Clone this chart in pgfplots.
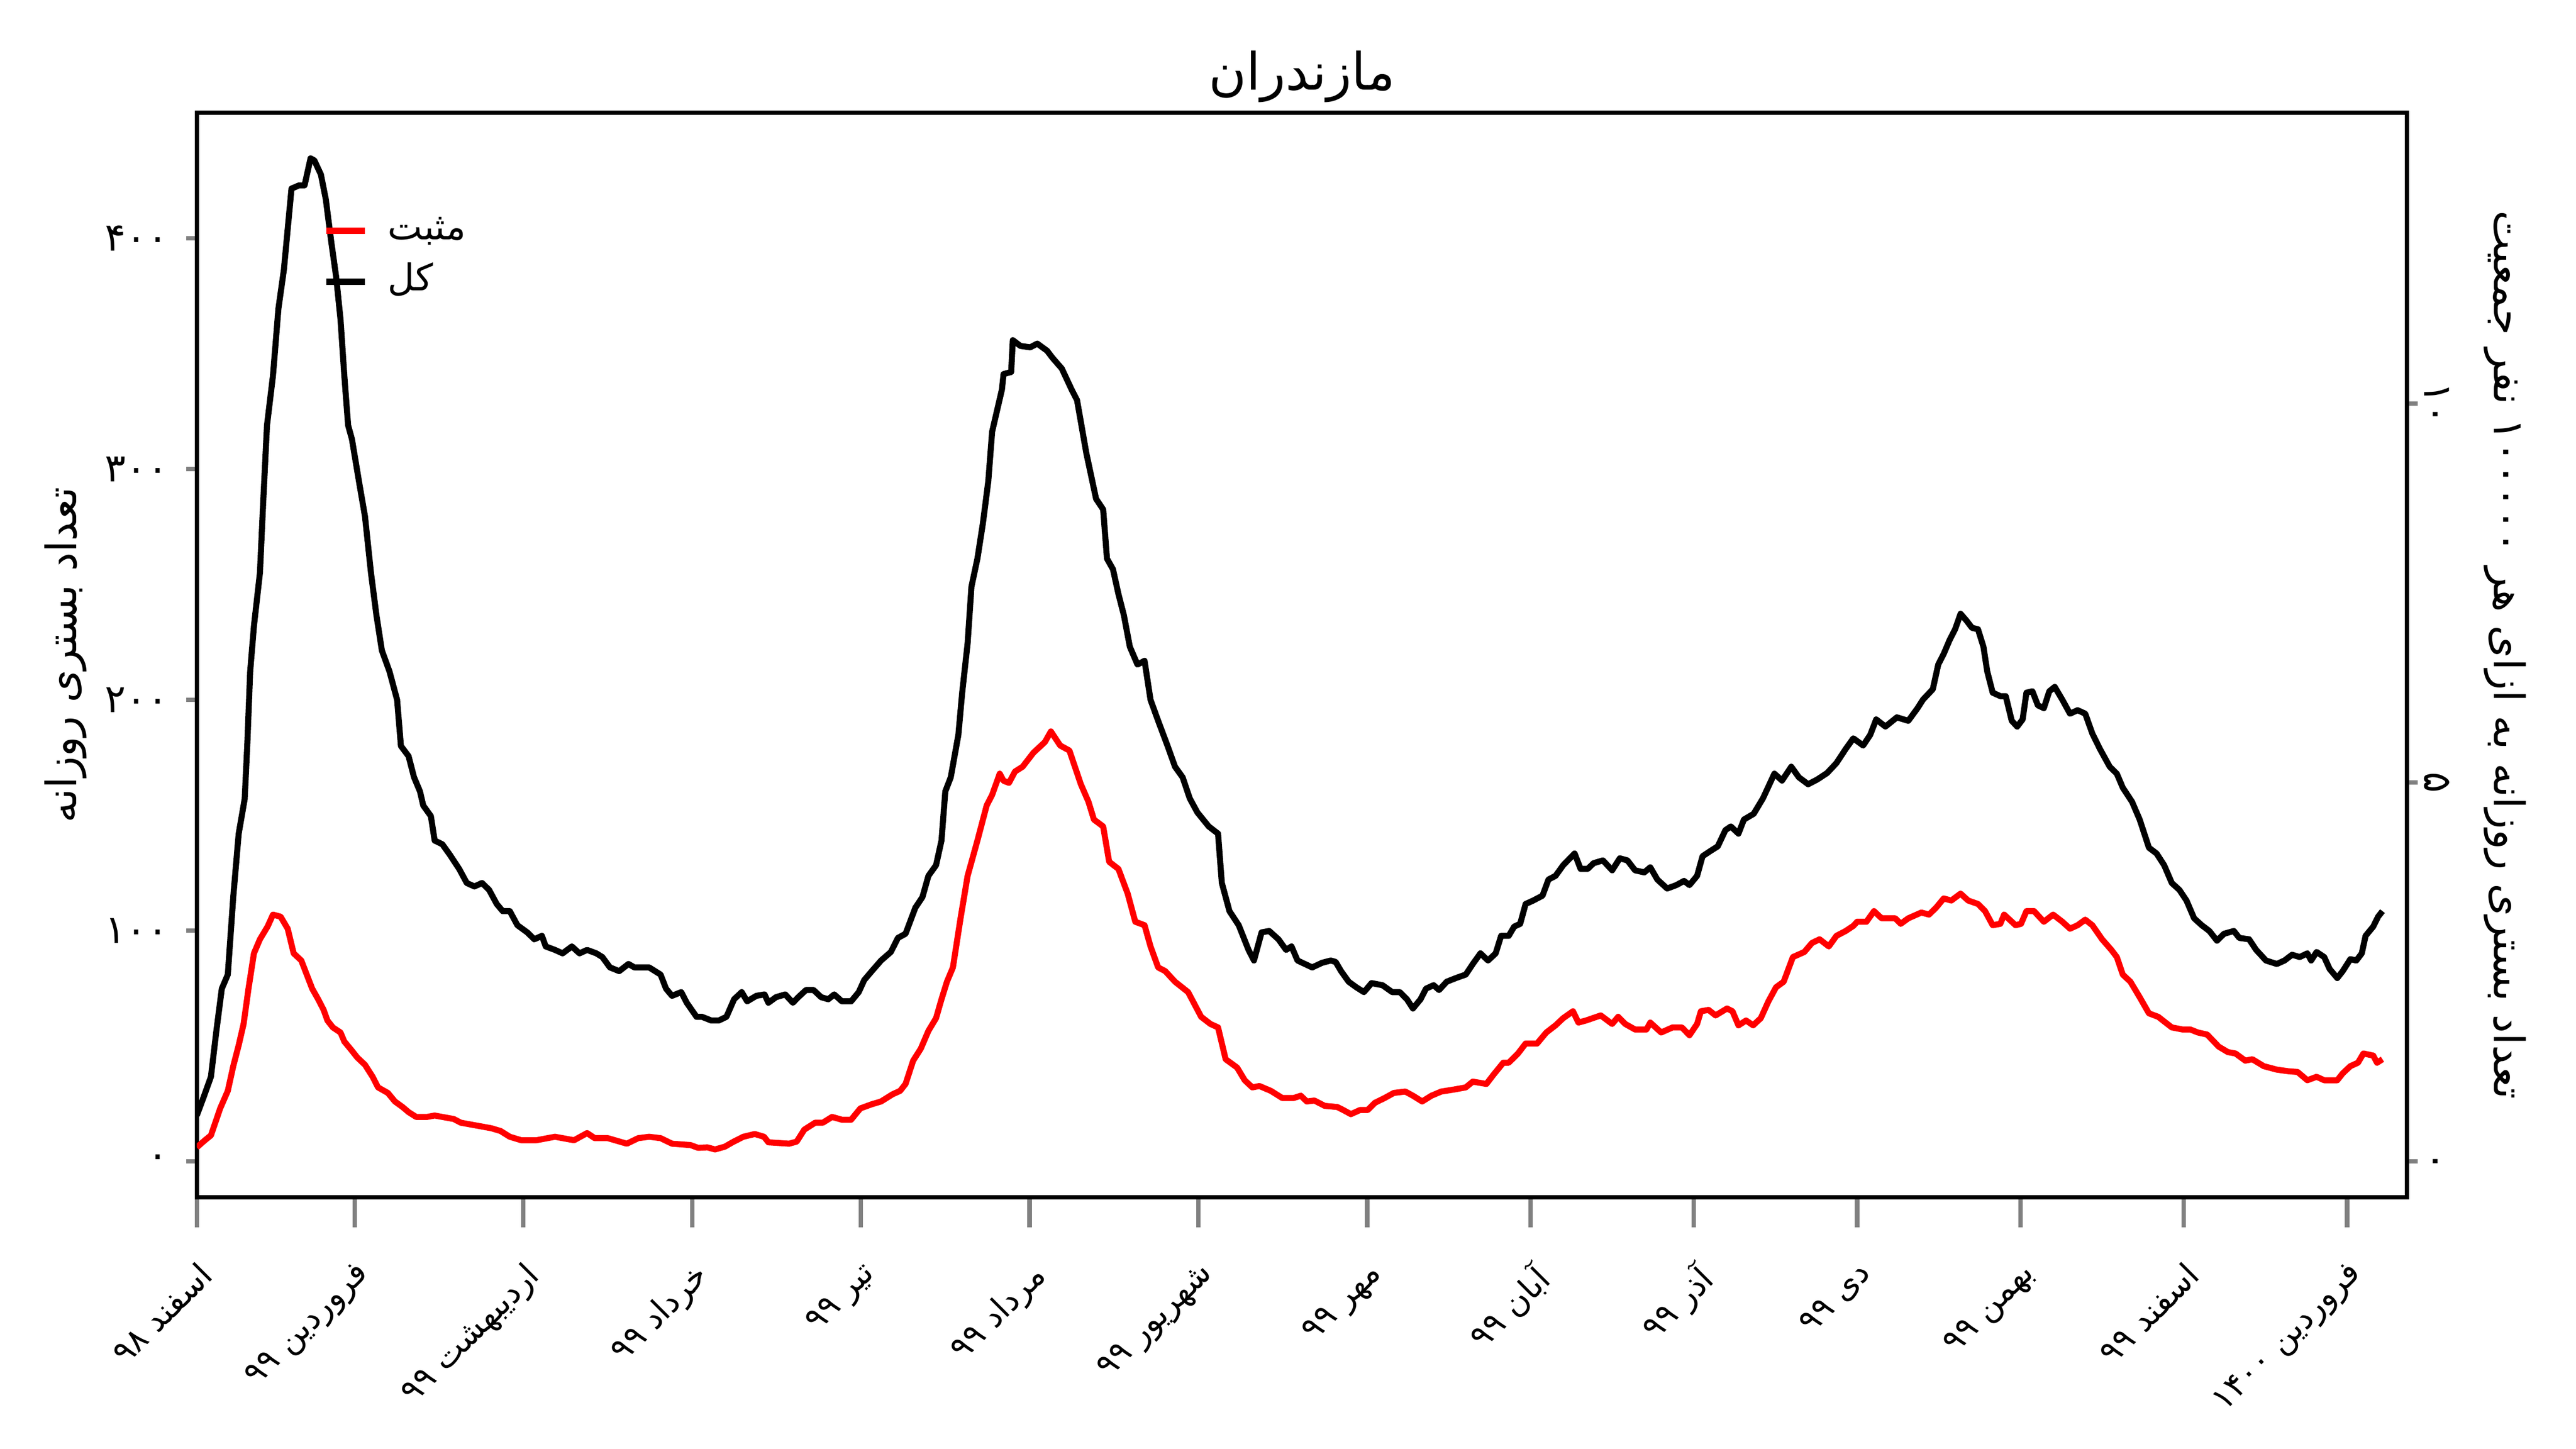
\documentclass[border=0pt]{standalone}
\usepackage{fontspec}
\usepackage{pgfplots}
\pgfplotsset{compat=1.18}
\TeXXeTstate=1
\newfontfamily\arabicfont[Script=Arabic]{DejaVu Sans}
\newfontfamily\digitfont{DejaVu Sans}
\definecolor{pred}{rgb}{1,0,0}
\begin{document}
\begin{tikzpicture}
\path[use as bounding box] (0,0) rectangle (1152pt,648pt);
\begin{axis}[
  at={(88pt,112.6pt)}, anchor=south west,
  width=988.4pt, height=485pt, scale only axis,
  xmin=0, xmax=406, ymin=-15.6, ymax=454.5,
  axis line style={line width=2pt},
  tick align=outside,
  xtick pos=bottom, ytick pos=left,
  xtick={0,29,60,91,122,153,184,215,245,275,305,335,365,395},
  xticklabels={
    {\arabicfont\beginR اسفند \beginL{\digitfont ۹۸}\endL{}\endR},
    {\arabicfont\beginR فروردین \beginL{\digitfont ۹۹}\endL{}\endR},
    {\arabicfont\beginR اردیبهشت \beginL{\digitfont ۹۹}\endL{}\endR},
    {\arabicfont\beginR خرداد \beginL{\digitfont ۹۹}\endL{}\endR},
    {\arabicfont\beginR تیر \beginL{\digitfont ۹۹}\endL{}\endR},
    {\arabicfont\beginR مرداد \beginL{\digitfont ۹۹}\endL{}\endR},
    {\arabicfont\beginR شهریور \beginL{\digitfont ۹۹}\endL{}\endR},
    {\arabicfont\beginR مهر \beginL{\digitfont ۹۹}\endL{}\endR},
    {\arabicfont\beginR آبان \beginL{\digitfont ۹۹}\endL{}\endR},
    {\arabicfont\beginR آذر \beginL{\digitfont ۹۹}\endL{}\endR},
    {\arabicfont\beginR دی \beginL{\digitfont ۹۹}\endL{}\endR},
    {\arabicfont\beginR بهمن \beginL{\digitfont ۹۹}\endL{}\endR},
    {\arabicfont\beginR اسفند \beginL{\digitfont ۹۹}\endL{}\endR},
    {\arabicfont\beginR فروردین \beginL{\digitfont ۱۴۰۰}\endL{}\endR}},
  ytick={0,100,200,300,400},
  yticklabels={{\digitfont ۰},{\digitfont ۱۰۰},{\digitfont ۲۰۰},{\digitfont ۳۰۰},{\digitfont ۴۰۰}},
  xtick style={line width=2pt, /pgfplots/major tick length=13.5pt},
  ytick style={line width=2pt, /pgfplots/major tick length=4.8pt},
  xticklabel style={rotate=45, anchor=north east, font=\fontsize{14.6}{14.6}\selectfont, inner sep=0pt, xshift=-16.6pt, yshift=-16.6pt},
  yticklabel style={font=\fontsize{17.5}{17.5}\selectfont, xshift=-5pt},
  every axis y label/.style={at={(axis description cs:-0.0593,0.5)}, anchor=center, rotate=90},
  ylabel={\arabicfont\beginR تعداد بستری روزانه\endR},
  ylabel style={font=\fontsize{18.8}{18.8}\selectfont},
  every axis title/.style={at={(axis description cs:0.5,1.033)}, anchor=center},
  title={\arabicfont\beginR مازندران\endR},
  title style={font=\fontsize{23}{23}\selectfont},
  legend style={at={(axis description cs:0.057,0.908)}, anchor=north west, draw=none, fill=none, inner sep=0pt, row sep=6.8pt, column sep=9pt, font=\fontsize{16.5}{16.5}\selectfont, nodes={inner sep=0pt, text height=12pt, text depth=4pt}},
  legend cell align=left,
  legend image code/.code={\draw[#1] (0pt,0pt) -- (17.2pt,0pt);},
  every axis plot/.append style={line width=2.7pt, line join=round},
]
\addplot[pred] coordinates {
(0,6.0)(1.5,9.1)(2.6,11.2)(4.3,22.9)(5.7,30.5)(6.7,41.2)(7.7,50.3)(8.6,59.5)(9.5,74.8)(10.5,90.1)
(11.6,96.2)(13.0,101.7)(14.0,106.9)(15.4,106.0)(16.7,100.8)(17.8,90.1)(19.2,87.0)(20.2,80.9)(21.2,74.8)(22.3,70.2)
(23.3,65.6)(24.0,61.0)(25.0,58.0)(26.4,55.8)(27.1,51.9)(28.5,47.9)(29.5,44.9)(30.9,41.8)(32.3,36.6)(33.3,32.0)
(35.1,29.6)(36.4,25.9)(37.8,23.5)(38.9,21.3)(40.3,19.2)(42.3,19.2)(43.7,19.8)(47.2,18.3)(48.5,16.7)(52.0,15.2)
(54.1,14.3)(55.8,13.1)(57.5,10.6)(59.6,9.1)(62.4,9.1)(65.8,10.6)(69.3,9.1)(71.7,12.2)(73.1,10.0)(75.5,10.0)
(79.0,7.6)(81.1,10.0)(83.1,10.6)(85.2,10.0)(87.3,7.6)(90.7,7.0)(92.1,5.8)(93.8,6.0)(95.2,5.1)(97.0,6.3)
(98.4,8.2)(100.4,10.6)(102.5,11.8)(104.2,10.6)(105.0,8.2)(108.8,7.6)(110.2,8.5)(111.6,13.7)(113.6,16.7)(115.0,16.7)
(116.7,19.2)(118.5,18.0)(120.2,18.0)(121.9,22.9)(124.0,24.7)(125.7,25.9)(127.8,29.0)(129.2,30.5)(130.2,33.5)(131.6,43.6)
(133.0,48.8)(134.4,56.5)(135.8,62.0)(136.8,70.2)(137.8,77.8)(138.9,84.0)(140.3,105.3)(141.6,123.7)(143.4,139.0)(145.1,154.2)
(146.1,158.8)(147.5,168.0)(148.2,164.9)(149.2,164.0)(150.3,168.9)(151.7,171.0)(153.7,177.1)(155.8,181.7)(156.9,186.3)(158.6,180.2)
(160.3,178.0)(162.4,163.4)(163.8,155.8)(164.8,148.1)(166.5,145.1)(167.6,129.8)(169.3,126.7)(171.0,116.0)(172.4,103.8)(174.1,102.3)
(175.2,93.1)(176.6,84.0)(177.9,82.4)(179.7,77.8)(182.1,73.3)(184.5,62.6)(186.2,59.5)(187.6,58.0)(189.0,44.2)(191.1,40.6)
(192.5,35.1)(193.9,32.0)(195.2,32.6)(197.3,30.5)(199.4,27.4)(201.5,27.4)(202.8,28.4)(203.9,25.9)(205.3,26.3)(207.2,24.0)
(209.5,23.5)(210.6,22.2)(212.0,20.4)(213.7,22.2)(215.1,22.2)(216.4,25.3)(218.2,27.4)(219.9,29.6)(222.0,30.2)(223.4,28.4)
(225.1,25.9)(226.8,28.4)(228.6,30.2)(231.0,31.1)(233.1,32.0)(234.4,34.5)(236.9,33.5)(238.2,37.5)(240.0,42.7)(241.0,42.7)
(242.7,46.7)(244.1,51.0)(246.2,51.0)(247.9,55.8)(249.6,58.9)(251.0,62.0)(252.8,65.0)(253.8,60.1)(255.2,61.0)(257.9,63.2)
(260.0,59.5)(261.1,62.6)(262.4,59.5)(264.2,57.1)(266.3,57.1)(267.0,60.1)(269.0,55.8)(271.1,58.0)(272.8,58.0)(274.2,54.6)
(275.6,59.5)(276.3,65.0)(277.7,65.6)(279.0,63.2)(281.1,66.2)(282.1,65.0)(283.2,58.9)(284.6,61.0)(285.9,58.9)(287.3,62.0)
(288.7,69.3)(290.1,75.4)(291.5,77.8)(293.2,88.5)(295.3,90.7)(296.7,94.6)(298.1,96.2)(299.8,93.1)(301.2,97.7)(302.9,99.8)
(304.3,102.0)(305.0,103.8)(306.7,103.8)(308.1,108.4)(309.5,105.3)(312.0,105.3)(313.0,102.9)(314.4,105.3)(316.8,107.8)(318.2,106.9)
(319.5,109.9)(320.9,113.9)(322.3,113.0)(324.0,116.0)(325.4,113.0)(327.2,111.5)(328.5,108.4)(329.9,102.3)(331.3,102.9)(332.0,106.9)
(334.1,102.3)(335.1,102.9)(336.1,108.4)(337.5,108.4)(339.3,103.8)(341.0,106.9)(342.7,103.8)(344.1,100.8)(345.5,102.3)(346.9,104.7)
(348.2,102.3)(350.0,96.2)(351.7,91.6)(352.7,88.5)(353.8,80.9)(355.2,77.8)(356.9,71.1)(358.6,64.1)(360.3,62.6)(362.8,58.0)
(364.8,57.1)(366.2,57.1)(367.6,55.8)(369.3,54.9)(371.4,49.7)(373.1,47.3)(374.5,46.7)(376.3,43.6)(377.6,44.2)(379.7,41.2)
(382.1,39.7)(384.2,39.0)(385.9,38.7)(387.7,35.1)(389.4,36.6)(390.8,35.1)(393.2,35.1)(394.2,38.1)(395.6,41.2)(397.0,42.7)
(398.0,46.7)(399.8,45.8)(400.5,42.7)(401.5,44.2)
};
\addlegendentry{\arabicfont\beginR مثبت\endR}
\addplot[black] coordinates {
(0,19.8)(1.2,27.4)(2.6,36.6)(3.6,56.5)(4.6,74.8)(5.7,80.9)(6.7,114.5)(7.7,142)(8.8,157)(9.3,181.7)
(9.8,212)(10.5,232)(11.6,255)(12.2,285.6)(12.9,319)(14.0,340.6)(15.0,369.6)(16.0,386.4)(17.4,421.6)(18.8,423)
(19.8,423)(20.9,434.7)(21.6,433.8)(22.8,427.7)(23.7,417)(24.7,398.6)(25.6,383.4)(26.4,365)(27.1,340.6)(27.8,319)
(28.5,313)(29.9,293.2)(30.9,279.5)(32.0,255)(33.0,236.7)(34.0,221.4)(35.4,212.3)(36.8,200)(37.5,180)(38.9,175.6)
(39.9,166.5)(41.0,160.3)(41.6,154.2)(43.0,149.6)(43.7,139)(45.1,137.4)(46.5,132.8)(48.2,126.7)(49.6,120.6)(51.0,119.1)
(52.4,120.6)(53.7,117.6)(55.1,111.5)(56.2,108.4)(57.5,108.4)(58.9,102.3)(60.7,99.2)(62.0,96.2)(63.4,97.7)(64.1,93.1)
(65.8,91.6)(67.2,90.1)(68.9,93.1)(70.3,90.1)(71.7,91.6)(73.4,90.1)(74.5,88.5)(75.9,84.0)(77.6,82.4)(79.3,85.5)
(80.4,84.0)(83.1,84.0)(85.2,80.9)(86.2,74.8)(87.3,71.7)(89.0,73.3)(90.0,68.7)(91.8,62.6)(92.8,62.6)(94.5,61.0)
(95.9,61.0)(97.3,62.6)(98.7,70.2)(100.1,73.3)(101.1,69.3)(102.8,71.7)(104.3,72.3)(105.0,68.7)(106.4,71.1)(108.1,72.3)
(109.5,68.7)(110.5,71.1)(111.9,74.2)(113.3,74.2)(114.7,71.1)(116.0,70.2)(117.1,72.3)(118.5,69.3)(120.2,69.3)(121.6,73.3)
(122.6,78.5)(124.0,82.4)(125.7,87.0)(127.5,90.7)(128.8,96.8)(130.2,98.6)(132.0,109.9)(133.3,114.5)(134.4,123.7)(135.8,128.3)
(136.8,139.0)(137.5,160.3)(138.5,166.4)(139.9,184.8)(140.6,203.1)(141.6,224.5)(142.3,249.0)(143.4,261.2)(144.4,276.4)(145.4,294.8)
(146.1,316.2)(147.9,334.5)(148.2,341.2)(149.6,342.1)(149.9,355.9)(151.3,353.4)(153.1,352.8)(154.4,354.4)(156.2,351.3)(157.2,348.2)
(158.9,343.6)(160.7,334.5)(161.7,329.9)(163.4,307.0)(165.2,287.1)(166.5,282.5)(167.2,261.2)(168.3,256.6)(169.3,245.9)(170.3,236.7)
(171.4,223.0)(172.8,215.3)(174.1,216.9)(175.2,200.0)(176.6,190.9)(178.3,180.2)(179.7,171.0)(181.1,166.4)(182.4,157.3)(183.8,151.2)
(185.9,145.1)(187.6,142.0)(188.3,120.6)(189.7,108.4)(191.4,102.3)(193.2,91.6)(194.2,87.0)(195.6,99.2)(197.0,99.8)(198.7,96.2)
(200.1,91.6)(201.1,93.1)(202.2,87.0)(204.9,84.0)(206.7,86.0)(208.3,87.0)(209.2,86.4)(210.2,82.4)(211.6,77.8)(213.0,75.4)
(214.4,73.3)(215.8,77.2)(217.8,76.3)(219.6,73.3)(221.0,73.3)(222.3,70.2)(223.4,66.2)(224.8,70.2)(225.8,74.8)(227.2,76.3)
(228.2,74.2)(229.6,77.8)(231.3,79.4)(233.1,80.9)(234.4,85.5)(235.8,90.1)(237.2,87.0)(238.6,90.1)(239.6,97.7)(241.0,97.7)
(242.0,101.7)(243.1,102.9)(244.1,111.5)(245.5,113.0)(247.2,115.1)(248.3,122.1)(249.6,123.7)(251.0,128.3)(253.1,133.4)(254.2,126.7)
(255.5,126.7)(256.6,129.2)(258.3,130.4)(260.0,126.1)(261.4,131.3)(262.8,130.4)(264.2,126.1)(265.9,125.2)(267.0,127.4)(268.3,122.1)
(270.1,118.2)(271.8,119.7)(273.2,121.5)(274.2,119.7)(275.6,123.7)(276.6,132.2)(278.0,134.4)(279.4,136.5)(280.8,143.5)(281.8,145.1)
(283.2,142.0)(284.2,148.1)(286.0,150.6)(287.7,157.3)(289.8,168.0)(291.2,165.0)(292.9,171.0)(294.3,166.4)(296.0,163.4)(297.7,165.5)
(299.5,168.3)(301.2,172.6)(302.9,178.7)(304.3,183.3)(306.1,180.2)(307.4,184.8)(308.5,191.5)(310.2,188.4)(312.3,192.4)(314.4,190.9)
(316.1,196.4)(317.1,200.1)(318.9,204.6)(319.9,215.3)(320.9,219.9)(322.0,226.0)(323.0,230.6)(324.0,237.3)(325.1,234.3)(326.1,231.2)
(327.2,230.6)(328.2,223.0)(328.9,212.3)(329.9,203.1)(331.3,201.6)(332.3,201.6)(333.4,190.9)(334.4,188.4)(335.4,191.5)(336.1,203.1)
(337.2,203.7)(338.2,197.6)(339.3,196.4)(340.3,203.7)(341.3,205.6)(342.7,200.0)(344.1,194.0)(345.5,195.5)(346.9,194.0)(348.2,185.4)
(349.6,178.7)(351.4,171.0)(352.7,168.0)(353.8,161.9)(355.5,155.8)(356.9,148.1)(358.6,135.9)(360.0,133.4)(361.4,128.3)(362.8,120.6)
(364.2,117.6)(365.5,113.0)(366.9,105.3)(368.3,102.3)(369.7,99.8)(371.1,95.6)(372.4,98.6)(374.2,99.8)(375.2,96.8)(377.0,96.2)
(378.3,91.6)(380.1,87.0)(382.1,85.5)(383.5,87.0)(384.9,89.5)(386.3,88.5)(387.7,90.1)(388.4,87.0)(389.4,90.7)(390.8,88.5)
(391.8,83.3)(393.2,79.4)(394.2,82.4)(395.6,87.6)(396.7,87.0)(397.7,90.1)(398.4,97.7)(399.8,101.7)(400.7,106.0)(401.5,108.4)
};
\addlegendentry{\arabicfont\beginR کل\endR}
\end{axis}
\begin{axis}[
  at={(88pt,112.6pt)}, anchor=south west,
  width=988.4pt, height=485pt, scale only axis,
  xmin=0, xmax=406, ymin=-0.475, ymax=13.84,
  axis x line=none, axis y line*=right,
  axis line style={line width=2pt},
  tick align=outside,
  ytick={0,5,10},
  yticklabels={{\digitfont ۰},{\digitfont ۵},{\digitfont ۱۰}},
  ytick style={line width=2pt, /pgfplots/major tick length=4.8pt},
  yticklabel style={rotate=-90, anchor=south, font=\fontsize{17.5}{17.5}\selectfont},
  every axis y label/.style={at={(axis description cs:1.0444,0.5)}, anchor=center, rotate=-90},
  ylabel={\arabicfont\beginR تعداد بستری روزانه به ازای هر \beginL{\digitfont ۱۰۰۰۰۰}\endL{} نفر جمعیت\endR},
  ylabel style={font=\fontsize{18.8}{18.8}\selectfont},
]
\addplot[draw=none] coordinates {(0,0)};
\end{axis}
\end{tikzpicture}
\end{document}
